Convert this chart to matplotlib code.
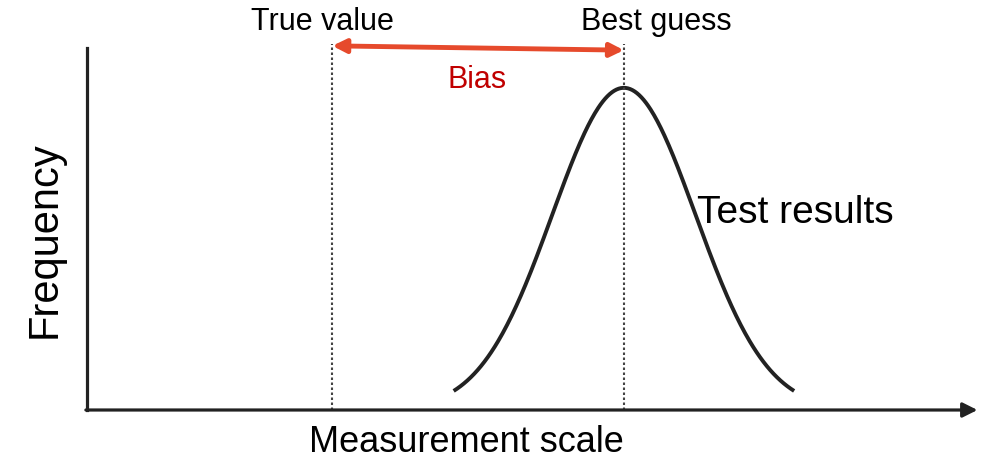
import numpy as np
import matplotlib
matplotlib.use('Agg')
import matplotlib.pyplot as plt

# conceptual measurement scale (axis runs 0..10)
true_value = 2.81
best_guess = 6.15
spread = 0.82
peak = 0.89
curve_halfwidth = 1.95

labels = {'true': 'True value', 'guess': 'Best guess', 'bias': 'Bias',
          'curve': 'Test results', 'x': 'Measurement scale', 'y': 'Frequency'}

plt.rcParams['font.family'] = ['Liberation Sans', 'DejaVu Sans']

fig = plt.figure(figsize=(9.87, 4.62), dpi=100)
ax = fig.add_axes([87/987, 52/462, 873/987, 362/462])
ax.set_xlim(0, 10)
ax.set_ylim(0, 1)
ax.set_xticks([])
ax.set_yticks([])
for s in ['top', 'right', 'bottom']:
    ax.spines[s].set_visible(False)
ax.spines['left'].set_linewidth(2.3)
ax.spines['left'].set_color('#222222')

# x axis with arrow head
ax.annotate('', xy=(10.2, 0), xytext=(-0.013, 0), annotation_clip=False,
            arrowprops=dict(arrowstyle='-|>', color='#222222', lw=2.3,
                            mutation_scale=22, shrinkA=0, shrinkB=0))

# bell curve of test results
x = np.linspace(best_guess - curve_halfwidth, best_guess + curve_halfwidth, 300)
y = peak * np.exp(-0.5 * ((x - best_guess) / spread) ** 2)
ax.plot(x, y, color='#222222', lw=2.8, solid_capstyle='butt')

# dotted reference lines
for xv in [true_value, best_guess]:
    ax.plot([xv, xv], [0, 1.01], color='#444444', lw=1.5, ls=(0, (1.2, 1.2)),
            clip_on=False)

# bias arrow
ax.annotate('', xy=(true_value, 1.006), xytext=(best_guess, 0.994),
            annotation_clip=False,
            arrowprops=dict(arrowstyle='<|-|>', color='#E64A2C', lw=3.5,
                            mutation_scale=20, shrinkA=0, shrinkB=0))

ax.text(2.70, 1.072, labels['true'], ha='center', va='center', fontsize=22,
        clip_on=False)
ax.text(6.52, 1.072, labels['guess'], ha='center', va='center', fontsize=22,
        clip_on=False)
ax.text(4.47, 0.912, labels['bias'], ha='center', va='center', fontsize=22,
        color='#C00000')
ax.text(6.99, 0.545, labels['curve'], ha='left', va='center', fontsize=28)
ax.text(4.34, -0.091, labels['x'], ha='center', va='center', fontsize=26,
        clip_on=False)
ax.text(-0.48, 0.47, labels['y'], ha='center', va='center', fontsize=30,
        rotation=90, clip_on=False)

plt.savefig('out.png', dpi=100)
